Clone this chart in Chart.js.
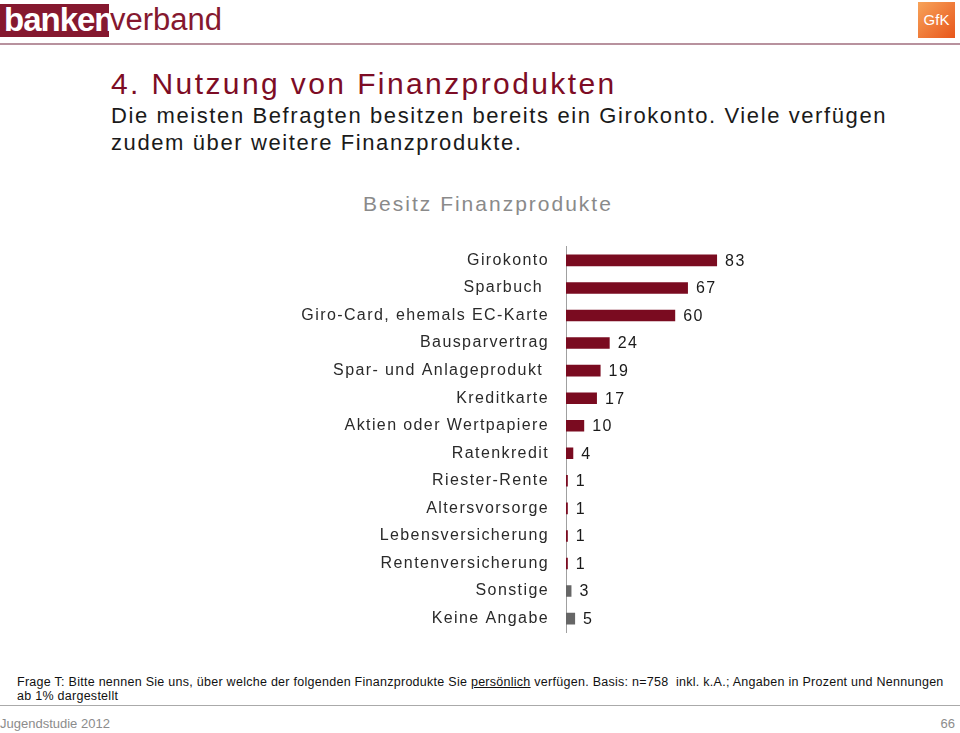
<!DOCTYPE html>
<html lang="de">
<head>
    <meta charset="UTF-8">
    <title>Nutzung von Finanzprodukten</title>
    <script src="https://cdn.jsdelivr.net/npm/chart.js"></script>
    <style>
        body {
            margin: 0;
            width: 960px;
            height: 733px;
            background: #fff;
            font-family: 'Liberation Sans', Arial, sans-serif;
            position: relative;
            overflow: hidden;
        }
        .abs { position: absolute; white-space: nowrap; }
        .logo-box {
            left: 0; top: 4px; height: 33px; width: 109px;
            background: #85182f;
        }
        .logo-banken {
            left: 4px; top: 0px; font-size: 33px; font-weight: bold;
            color: #fff; letter-spacing: -1px; line-height: 40px;
        }
        .logo-verband {
            left: 110px; top: 0px; font-size: 31px; color: #85182f;
            line-height: 40px;
        }
        .topline { left: 0; top: 43px; width: 960px; height: 2px; background: #b8929e; }
        .gfk {
            left: 918px; top: 2px; width: 37px; height: 36px;
            background: linear-gradient(135deg, #f7a35a, #e8561b);
            color: #fff; font-size: 15px; line-height: 36px; text-align: center;
        }
        h1 {
            position: absolute; margin: 0; left: 111px; top: 66px;
            font-size: 30px; font-weight: normal; color: #7d0c25;
            letter-spacing: 2.4px; line-height: 36px;
        }
        .sub {
            left: 111px; top: 102px; font-size: 22px; color: #1a1a1a;
            letter-spacing: 1.6px; line-height: 27px;
        }
        .chart-title {
            left: 0; width: 976px; top: 192px; text-align: center;
            font-size: 21px; color: #8a8a8a; letter-spacing: 2px;
        }
        #wrap { position: absolute; left: 0; top: 220px; width: 800px; height: 439px; }
        .note {
            left: 17px; top: 675px; font-size: 12.5px; color: #111;
            letter-spacing: 0.27px; line-height: 14px;
        }
        .botline { left: 0; top: 705px; width: 960px; height: 1px; background: #aaa; }
        .foot { top: 716px; font-size: 13px; color: #8c8c8c; }
    </style>
</head>
<body>
    <div class="abs logo-box"></div>
    <div class="abs logo-banken">banken</div>
    <div class="abs logo-verband">verband</div>
    <div class="abs gfk">GfK</div>
    <div class="abs topline"></div>

    <h1>4. Nutzung von Finanzprodukten</h1>
    <div class="abs sub">Die meisten Befragten besitzen bereits ein Girokonto. Viele verfügen<br>zudem über weitere Finanzprodukte.</div>
    <div class="abs chart-title">Besitz Finanzprodukte</div>

    <div id="wrap"><canvas id="chart"></canvas></div>

    <div class="abs note">Frage T: Bitte nennen Sie uns, über welche der folgenden Finanzprodukte Sie <u>persönlich</u> verfügen. Basis: n=758&nbsp; inkl. k.A.; Angaben in Prozent und Nennungen<br>ab 1% dargestellt</div>
    <div class="abs botline"></div>
    <div class="abs foot" style="left:0">Jugendstudie 2012</div>
    <div class="abs foot" style="right:5px">66</div>

    <script>
        const categories = [
            'Girokonto', 'Sparbuch ', 'Giro-Card, ehemals EC-Karte', 'Bausparvertrag',
            'Spar- und Anlageprodukt ', 'Kreditkarte', 'Aktien oder Wertpapiere', 'Ratenkredit',
            'Riester-Rente', 'Altersvorsorge', 'Lebensversicherung', 'Rentenversicherung',
            'Sonstige', 'Keine Angabe'
        ];
        const values = [83, 67, 60, 24, 19, 17, 10, 4, 1, 1, 1, 1, 3, 5];
        const grayFrom = 12; // Sonstige / Keine Angabe in grey

        const spacing = {
            id: 'spacing',
            beforeDraw(chart) {
                chart.ctx.letterSpacing = '1.4px';
            }
        };

        const valueLabels = {
            id: 'valueLabels',
            afterDatasetsDraw(chart) {
                const ctx = chart.ctx;
                const meta = chart.getDatasetMeta(0);
                ctx.save();
                ctx.letterSpacing = '1.5px';
                ctx.font = '16px "Liberation Sans", Arial, sans-serif';
                ctx.fillStyle = '#1a1a1a';
                ctx.textAlign = 'left';
                ctx.textBaseline = 'middle';
                meta.data.forEach((bar, i) => {
                    ctx.fillText(values[i], bar.x + 8, bar.y + 1);
                });
                ctx.restore();
            }
        };

        new Chart(document.getElementById('chart'), {
            type: 'bar',
            data: {
                labels: categories,
                datasets: [{
                    data: values,
                    backgroundColor: c => c.dataIndex >= grayFrom ? '#666666' : '#7a0b20',
                    barPercentage: 0.42,
                    categoryPercentage: 1
                }]
            },
            options: {
                indexAxis: 'y',
                responsive: true,
                maintainAspectRatio: false,
                animation: false,
                layout: { padding: { top: 0, bottom: 0, right: 52, left: 0 } },
                plugins: { legend: { display: false }, tooltip: { enabled: false } },
                scales: {
                    x: { display: false, min: 0, max: 100 },
                    y: {
                        grid: { display: false, drawTicks: false },
                        border: { display: true, color: '#a0a0a0', width: 1 },
                        ticks: {
                            color: '#2a2a2a',
                            padding: 17,
                            font: { family: '"Liberation Sans", Arial, sans-serif', size: 16 }
                        },
                        afterFit(scale) { scale.width = 566; }
                    }
                }
            },
            plugins: [spacing, valueLabels]
        });
    </script>
</body>
</html>
